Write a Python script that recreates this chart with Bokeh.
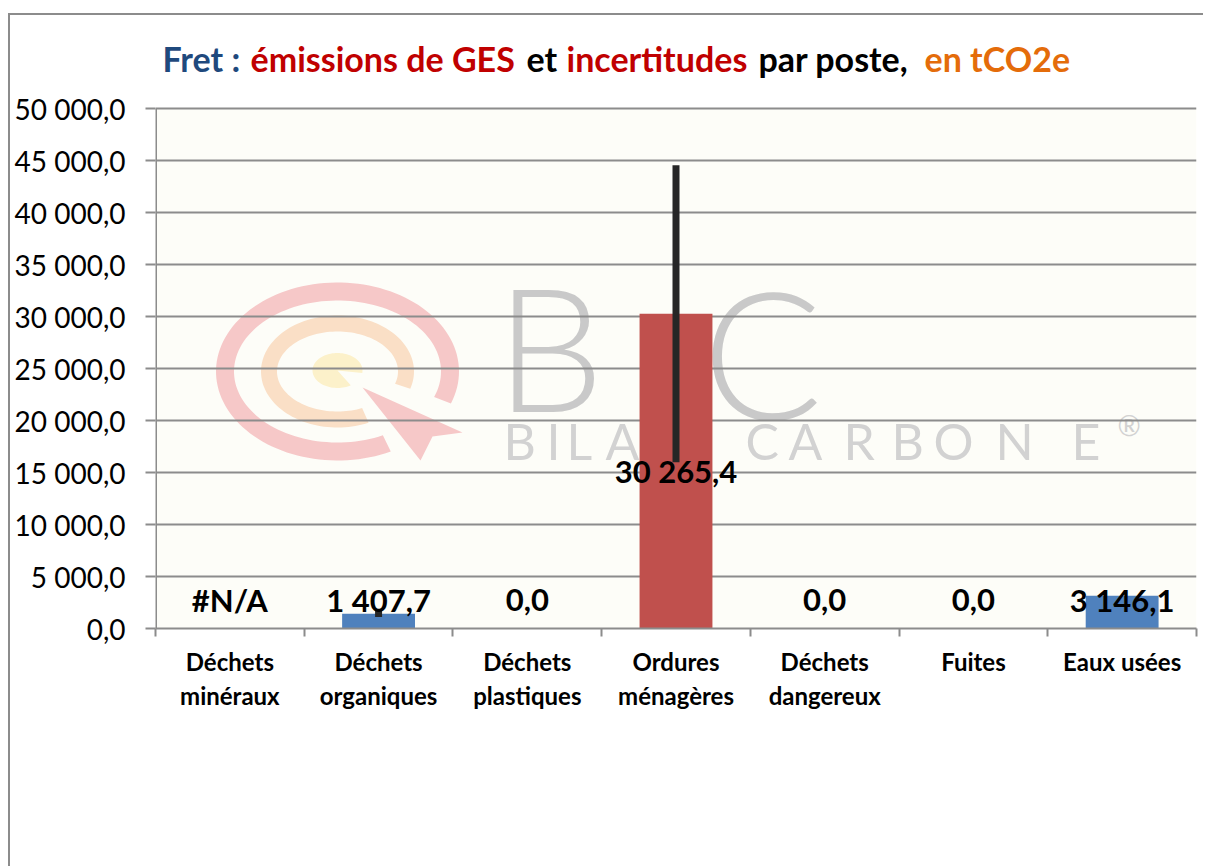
import numpy as np
from bokeh.plotting import figure
from bokeh.models import ColumnDataSource, Range1d, FixedTicker, Label
from bokeh.core.properties import value
from bokeh.embed import file_html
from bokeh.resources import INLINE

# ---------------- data ----------------
categories = ["Déchets minéraux", "Déchets organiques", "Déchets plastiques",
              "Ordures ménagères", "Déchets dangereux", "Fuites", "Eaux usées"]
category_labels = ["Déchets\nminéraux", "Déchets\norganiques", "Déchets\nplastiques",
                   "Ordures\nménagères", "Déchets\ndangereux", "Fuites", "Eaux usées"]
emissions = [np.nan, 1407.7, 0.0, 30265.4, 0.0, 0.0, 3146.1]      # tCO2e
uncertainty = [np.nan, 290.0, 0.0, 14280.0, 0.0, 0.0, 0.0]       # +/- tCO2e
highlight = "Ordures ménagères"
y_ticks = list(range(0, 50001, 5000))
title_parts = [("Fret :", "#1F497D"), ("émissions de GES", "#C00000"), ("et", "#000000"),
               ("incertitudes", "#C00000"), ("par poste,", "#000000"), ("en tCO2e", "#E46C0A")]

# ---------------- helpers ----------------
def fr(v):
    if v is None or (isinstance(v, float) and np.isnan(v)):
        return "#N/A"
    return f"{v:,.1f}".replace(",", " ").replace(".", ",")

BLUE, RED = "#4F81BD", "#C0504D"
GRID = "#8C8C8C"
FONT = "Lato"
Y_MAX = y_ticks[-1]

n = len(categories)
xs = np.arange(n) + 0.5
em = np.array(emissions, dtype=float)
unc = np.array(uncertainty, dtype=float)
label_floor = 2700.0
src = ColumnDataSource(dict(
    x=xs, top=em,
    lo=em - unc, hi=em + unc,
    color=[RED if c == highlight else BLUE for c in categories],
    label=[fr(v) for v in emissions],
    label_y=[label_floor if np.isnan(v) else max(v / 2.0, label_floor) for v in em],
))

# layout (page pixels): canvas starts at (10, 15); plot area 155..1196 x 108..628
CANVAS_TOP = 15.0
FL, FR_, FT, FB = 155.0, 1196.0, 108.0, 628.0
def dx(px):
    return (np.asarray(px, dtype=float) - FL) / (FR_ - FL) * n
def dy(py):
    return (FB - np.asarray(py, dtype=float)) / (FB - FT) * Y_MAX

Y_TOP = float(dy(CANVAS_TOP))

p = figure(width=1195, height=853, x_range=Range1d(0, n), y_range=Range1d(0, Y_TOP),
           output_backend="svg", toolbar_location=None,
           min_border_left=145, min_border_right=9, min_border_top=0, min_border_bottom=240,
           background_fill_color="white", border_fill_color="white", outline_line_color=None,
           styles={"margin-top": "13px", "margin-left": "8px",
                   "border-left": "2px solid #8C8C8C", "border-top": "2px solid #8C8C8C"})

# plot-area background
bg = p.quad(left=[0], right=[n], bottom=[0], top=[Y_MAX], fill_color="#FDFDF8", line_color=None)
bg.level = "image"

# ---------------- decorative watermark (Bilan Carbone logo) ----------------
def ell_ring(cx, cy, ax, ay, thick, a0, a1, steps=120):
    t = np.radians(np.linspace(a0, a1, steps))
    ox, oy = cx + ax * np.cos(t), cy - ay * np.sin(t)
    ix, iy = cx + (ax - thick) * np.cos(t[::-1]), cy - (ay - thick) * np.sin(t[::-1])
    return dx(np.r_[ox, ix]).tolist(), dy(np.r_[oy, iy]).tolist()

def ell_wedge(cx, cy, ax, ay, a0, a1, steps=80):
    t = np.radians(np.linspace(a0, a1, steps))
    px = np.r_[cx, cx + ax * np.cos(t)]
    py = np.r_[cy, cy - ay * np.sin(t)]
    return dx(px).tolist(), dy(py).tolist()

wm = []
rx, ry = ell_ring(337, 371, 121.5, 89, 18, -21, 296)
wm.append(p.patch(rx, ry, fill_color="#F6C8C8", line_color=None))
rx, ry = ell_ring(337, 371, 76.5, 56, 16, -18, 294)
wm.append(p.patch(rx, ry, fill_color="#FADFC6", line_color=None))
rx, ry = ell_wedge(337, 370, 25, 17.5, -8, 302)
wm.append(p.patch(rx, ry, fill_color="#FCF1CA", line_color=None))
ax_ = [362, 462, 432, 420]
ay_ = [387, 432, 436, 460]
wm.append(p.patch(dx(ax_).tolist(), dy(ay_).tolist(), fill_color="#F6C8C8", line_color=None))
wm.append(p.text(x=dx([495]).tolist(), y=dy([345]).tolist(), text=["B"],
                 text_font=value("Lato Light"), text_font_size="172px", text_color="#C9C9C9",
                 text_align="left", text_baseline="middle"))
wm.append(p.text(x=dx([822]).tolist(), y=dy([350]).tolist(), text=["C"],
                 text_font=value("Lato Light"), text_font_size="178px", text_color="#C9C9C9",
                 text_align="right", text_baseline="middle"))
letters = list("BILANCARBONE")
lx = [503, 546, 566, 605, 666, 745, 788, 843, 891, 933, 995, 1071]
wm.append(p.text(x=dx(lx).tolist(), y=dy([440] * len(lx)).tolist(), text=letters,
                 text_font=value("Lato"), text_font_size="50px", text_color="#D2D2D2",
                 text_align="left", text_baseline="middle"))
wm.append(p.text(x=dx([1117]).tolist(), y=dy([424]).tolist(), text=["®"],
                 text_font=value("Lato"), text_font_size="28px", text_color="#D2D2D2",
                 text_align="left", text_baseline="middle"))
for r in wm:
    r.level = "image"

# ---------------- bars, error bars, labels ----------------
p.vbar(x="x", top="top", width=0.49, source=src, fill_color="color", line_color=None)
p.segment(x0="x", y0="lo", x1="x", y1="hi", source=src, line_width=7, line_color="#262626")
p.text(x="x", y="label_y", text="label", source=src, text_align="center", text_baseline="middle",
       text_font=value(FONT), text_font_style="bold", text_font_size="31px", text_color="black")

# ---------------- axes & grid ----------------
p.xgrid.grid_line_color = None
p.ygrid.grid_line_color = GRID
p.ygrid.grid_line_width = 2

ya = p.yaxis[0]
ya.ticker = FixedTicker(ticks=y_ticks, minor_ticks=[])
ya.major_label_overrides = {t: fr(float(t)) for t in y_ticks}
ya.major_label_text_font = FONT
ya.major_label_text_font_size = "28px"
ya.major_label_text_color = "black"
ya.major_label_standoff = 20
ya.major_tick_out = 10
ya.major_tick_in = 0
ya.major_tick_line_color = GRID
ya.major_tick_line_width = 2
ya.axis_line_color = None
# value-axis line limited to the plotted value span
p.segment(x0=[0], y0=[0], x1=[0], y1=[Y_MAX], line_color=GRID, line_width=3)

xa = p.xaxis[0]
xa.ticker = FixedTicker(ticks=xs.tolist(), minor_ticks=list(range(n + 1)))
xa.major_label_overrides = {float(x): lab for x, lab in zip(xs, category_labels)}
xa.major_label_text_font = FONT
xa.major_label_text_font_style = "bold"
xa.major_label_text_font_size = "24px"
xa.major_label_text_color = "black"
xa.major_label_standoff = 10
xa.major_tick_out = 0
xa.major_tick_in = 0
xa.minor_tick_out = 8
xa.minor_tick_in = 0
xa.minor_tick_line_color = GRID
xa.minor_tick_line_width = 2
xa.axis_line_color = GRID
xa.axis_line_width = 2

# ---------------- multi-coloured title ----------------
title_x = [162, 250, 526, 566, 758, 924]
for (txt, col), tx in zip(title_parts, title_x):
    p.add_layout(Label(x=float(dx(tx)), y=float(dy(58)), text=txt, text_color=col,
                       text_font=FONT, text_font_style="bold", text_font_size="34px",
                       text_align="left", text_baseline="middle"))

open("out.html", "w").write(file_html(p, INLINE))
